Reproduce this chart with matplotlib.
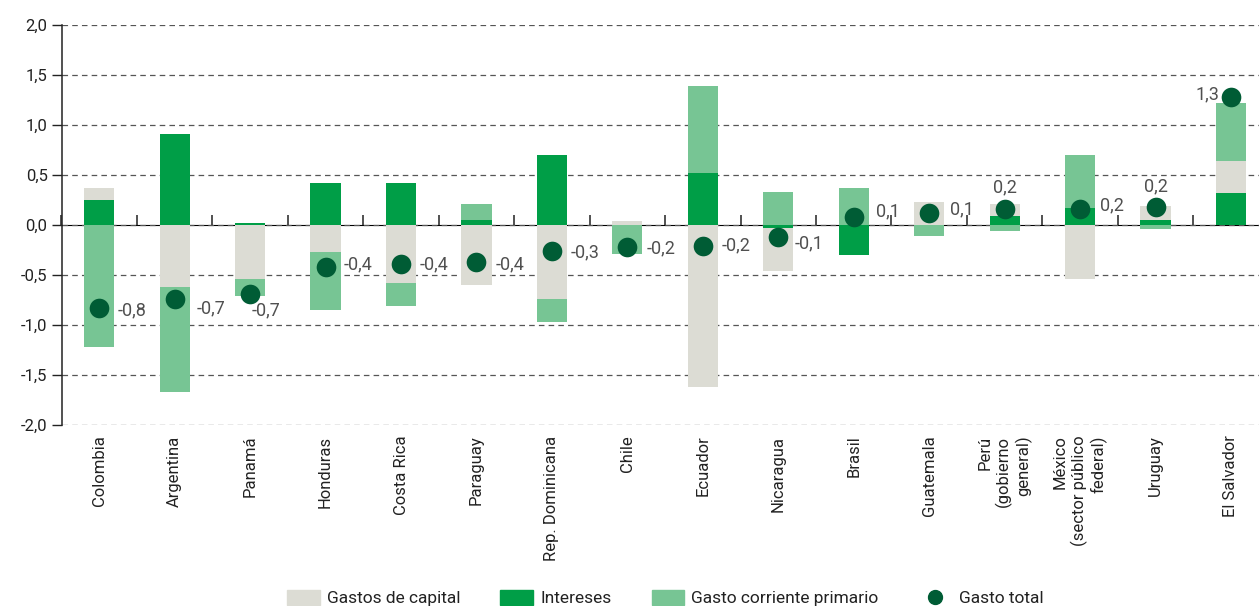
import numpy as np
import matplotlib
matplotlib.use("Agg")
import matplotlib.pyplot as plt
from matplotlib import font_manager
from matplotlib.patches import Patch
from matplotlib.lines import Line2D

# ---------------- data ----------------
categories = ["Colombia", "Argentina", "Panamá", "Honduras", "Costa Rica", "Paraguay",
              "Rep. Dominicana", "Chile", "Ecuador", "Nicaragua", "Brasil", "Guatemala",
              "Perú\n(gobierno\ngeneral)", "México\n(sector público\nfederal)", "Uruguay",
              "El Salvador"]
intereses = [0.25, 0.91, 0.02, 0.42, 0.42, 0.05, 0.70, 0.00, 0.52, -0.03, -0.30, 0.00,
             0.09, 0.17, 0.05, 0.32]
gastos_capital = [0.12, -0.62, -0.54, -0.27, -0.58, -0.60, -0.74, 0.04, -1.62, -0.43, 0.00,
                  0.23, 0.12, -0.54, 0.14, 0.32]
gasto_corriente = [-1.22, -1.05, -0.17, -0.58, -0.23, 0.16, -0.23, -0.29, 0.87, 0.33, 0.37,
                   -0.11, -0.06, 0.53, -0.04, 0.58]
gasto_total = [-0.83, -0.74, -0.69, -0.42, -0.39, -0.37, -0.26, -0.22, -0.21, -0.12, 0.08,
               0.12, 0.16, 0.16, 0.18, 1.28]
y_ticks = [-2.0, -1.5, -1.0, -0.5, 0.0, 0.5, 1.0, 1.5, 2.0]

# ---------------- style ----------------
names = {f.name for f in font_manager.fontManager.ttflist}
family = "Liberation Sans Narrow" if "Liberation Sans Narrow" in names else "Roboto"
plt.rcParams["font.family"] = [family, "DejaVu Sans"]
plt.rcParams["lines.scale_dashes"] = False

C_CAP = "#dcdcd4"
C_INT = "#009e47"
C_COR = "#77c594"
C_DOT = "#005c35"
TXT = "#505050"

fig = plt.figure(figsize=(12.59, 6.06), dpi=100)
ax = fig.add_axes([61.5 / 1259, 181.5 / 606, 16 * 75.45 / 1259, 399.5 / 606])

x = np.arange(len(categories))
width = 0.4
pos_base = np.zeros(len(categories))
neg_base = np.zeros(len(categories))
for vals, col in [(intereses, C_INT), (gastos_capital, C_CAP), (gasto_corriente, C_COR)]:
    v = np.array(vals)
    bottom = np.where(v >= 0, pos_base, neg_base)
    ax.bar(x, v, width, bottom=bottom, color=col, zorder=3, linewidth=0)
    pos_base = pos_base + np.where(v > 0, v, 0)
    neg_base = neg_base + np.where(v < 0, v, 0)

ax.scatter(x, gasto_total, s=200, color=C_DOT, zorder=5, linewidths=0)

# label placement (pixel offsets, alignment)
offsets = [(18, -3, "left"), (22, -10, "left"), (1, -17, "left"), (18, 2, "left"),
           (19, -1, "left"), (19, -3, "left"), (19, -2, "left"), (19, -2, "left"),
           (19, 0, "left"), (16, -7, "left"), (22, 5, "left"), (21, 3, "left"),
           (0, 21, "center"), (20, 3, "left"), (0, 20, "center"), (-12, 3, "right")]
for xi, val, (dx, dy, ha) in zip(x, gasto_total, offsets):
    ax.annotate(f"{val:.1f}".replace(".", ","), (xi, val), xytext=(dx, dy),
                textcoords="offset pixels", ha=ha, va="center", fontsize=13,
                color=TXT, zorder=6)

ax.set_xlim(-0.5, len(categories) - 0.5)
ax.set_ylim(-2.0, 2.0)
ax.set_yticks(y_ticks)
ax.set_yticklabels([f"{t:.1f}".replace(".", ",") for t in y_ticks])
ax.tick_params(axis="y", direction="out", length=7, width=1, color="#222222",
               labelsize=12, labelcolor="#222222", pad=3)
ax.yaxis.grid(True, color="#555555", linestyle=(0, (4, 3)), linewidth=0.9, zorder=0)
ax.set_axisbelow(True)

ax.set_xticks(x)
ax.set_xticklabels(categories, rotation=90, va="top", ha="center", multialignment="right",
                   fontsize=12, color="#222222")
ax.tick_params(axis="x", length=0, pad=8)

for s in ["top", "right", "bottom"]:
    ax.spines[s].set_visible(False)
ax.spines["left"].set_color("#222222")
ax.spines["left"].set_linewidth(1.1)

# zero line with category separators
sec = ax.secondary_xaxis(0.5)
sec.set_xticks(np.arange(-0.5, len(categories), 1.0))
sec.set_xticklabels([])
sec.tick_params(direction="out", length=7, width=1.1, color="#222222")
sec.spines["bottom"].set_color("#222222")
sec.spines["bottom"].set_linewidth(1.3)
sec.spines["bottom"].set_zorder(4)

handles = [Patch(color=C_CAP, label="Gastos de capital"),
           Patch(color=C_INT, label="Intereses"),
           Patch(color=C_COR, label="Gasto corriente primario"),
           Line2D([], [], marker="o", linestyle="none", markersize=10, color=C_DOT,
                  label="Gasto total")]
leg = ax.legend(handles=handles, loc="center", bbox_to_anchor=(0.5, -0.435), ncol=4,
                frameon=False, fontsize=12.5, handlelength=1.9, handleheight=0.9,
                handletextpad=0.4, columnspacing=2.3, labelcolor="#222222")

fig.savefig("out.png", dpi=100)
